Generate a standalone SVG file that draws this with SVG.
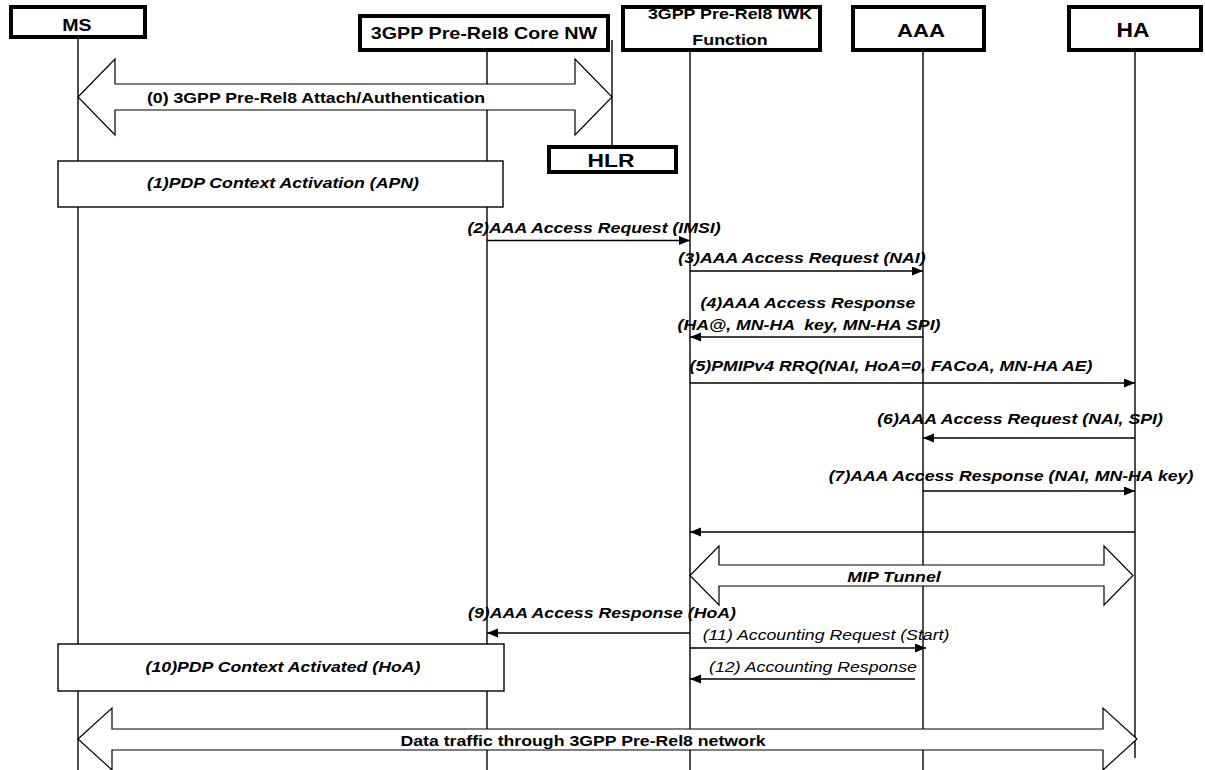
<svg xmlns="http://www.w3.org/2000/svg" width="1205" height="770" viewBox="0 0 1205 770">
<style>
text{font-family:"Liberation Sans",Arial,Helvetica,sans-serif;text-anchor:middle;fill:#000}
.h{font-weight:bold}
.m{font-size:15px;font-style:italic;font-weight:bold;white-space:pre}
.mi{font-size:15px;font-style:italic}
.mb{font-size:15px;font-weight:bold}
.box{fill:#fff;stroke:#000;stroke-width:4}
.life{stroke:#000;stroke-width:1.4;fill:none}
.proc{fill:#fff;stroke:#000;stroke-width:1.4}
.msg{stroke:#000;stroke-width:1.5;fill:none;marker-end:url(#ah)}
.big{fill:#fff;stroke:#000;stroke-width:1.2}
</style>
<defs>
<marker id="ah" markerUnits="userSpaceOnUse" markerWidth="12" markerHeight="10" refX="11" refY="4.5" orient="auto">
<path d="M0,0 L11,4.5 L0,9 z" fill="#000"/>
</marker>
</defs>
<rect width="1205" height="770" fill="#fff"/>

<g id="lifelines">
<line class="life" x1="78" y1="39" x2="78" y2="770"/>
<line class="life" x1="487" y1="52" x2="487" y2="770"/>
<line class="life" x1="690" y1="52" x2="690" y2="770"/>
<line class="life" x1="923" y1="52" x2="923" y2="770"/>
<line class="life" x1="1135" y1="52" x2="1135" y2="758"/>
<line class="life" x1="612" y1="40" x2="612" y2="145"/>
</g>

<g id="MS">
<rect class="box" x="11" y="7" width="134" height="30"/>
<text class="h" font-size="17" transform="translate(77,31) scale(1.15,1)">MS</text>
</g>
<g id="CoreNW">
<rect class="box" x="360" y="16" width="248" height="34"/>
<text class="h" font-size="17" transform="translate(484,38.5) scale(1.16,1)">3GPP Pre-Rel8 Core NW</text>
</g>
<g id="IWK">
<rect class="box" x="623" y="7" width="197" height="43"/>
<text class="h" font-size="15" transform="translate(730,19) scale(1.19,1)">3GPP Pre-Rel8 IWK</text>
<text class="h" font-size="15" transform="translate(730,44.5) scale(1.19,1)">Function</text>
</g>
<g id="AAA">
<rect class="box" x="853" y="7" width="131" height="43"/>
<text class="h" font-size="19" transform="translate(921,37) scale(1.17,1)">AAA</text>
</g>
<g id="HA">
<rect class="box" x="1069" y="7" width="132" height="43"/>
<text class="h" font-size="19.5" transform="translate(1133,37) scale(1.17,1)">HA</text>
</g>
<g id="HLR">
<rect class="box" x="549" y="147" width="127" height="25"/>
<text class="h" font-size="19" transform="translate(611,167) scale(1.2,1)">HLR</text>
</g>

<g id="step1">
<rect class="proc" x="58" y="161" width="445" height="46"/>
<text class="m" transform="translate(283,187.5) scale(1.18,1)">(1)PDP Context Activation (APN)</text>
</g>
<g id="step10">
<rect class="proc" x="58" y="644" width="446" height="47"/>
<text class="m" transform="translate(283,671.5) scale(1.18,1)">(10)PDP Context Activated (HoA)</text>
</g>

<g id="connectors">
<polygon class="big" points="78,97 115,59 115,84 575,84 575,59 612,97 575,135 575,110 115,110 115,135"/>
<polygon class="big" points="690,575.5 719,546 719,565 1104,565 1104,546 1133,575.5 1104,605 1104,586 719,586 719,605"/>
<polygon class="big" points="78,739 112,708 112,729 1103,729 1103,708 1137,739 1103,770 1103,750 112,750 112,770"/>
<line class="msg" x1="487" y1="240.5" x2="690" y2="240.5"/>
<line class="msg" x1="690" y1="271" x2="923" y2="271"/>
<line class="msg" x1="923" y1="337" x2="690" y2="337"/>
<line class="msg" x1="690" y1="383" x2="1135" y2="383"/>
<line class="msg" x1="1135" y1="438" x2="923" y2="438"/>
<line class="msg" x1="923" y1="491" x2="1135" y2="491"/>
<line class="msg" x1="1135" y1="532" x2="690" y2="532"/>
<line class="msg" x1="690" y1="633" x2="487" y2="633"/>
<line class="msg" x1="690" y1="648" x2="926" y2="648"/>
<line class="msg" x1="915" y1="679" x2="690" y2="679"/>
</g>

<g id="labels">
<text class="mb" transform="translate(316,102.5) scale(1.18,1)">(0) 3GPP Pre-Rel8 Attach/Authentication</text>
<text class="m" transform="translate(594,232.5) scale(1.18,1)">(2)AAA Access Request (IMSI)</text>
<text class="m" transform="translate(802,262.5) scale(1.18,1)">(3)AAA Access Request (NAI)</text>
<text class="m" transform="translate(808,307.5) scale(1.18,1)">(4)AAA Access Response</text>
<text class="m" transform="translate(809,329.5) scale(1.18,1)">(HA@, MN-HA  key, MN-HA SPI)</text>
<text class="m" transform="translate(891,370.5) scale(1.18,1)">(5)PMIPv4 RRQ(NAI, HoA=0, FACoA, MN-HA AE)</text>
<text class="m" transform="translate(1020,423.5) scale(1.18,1)">(6)AAA Access Request (NAI, SPI)</text>
<text class="m" transform="translate(1011,480.5) scale(1.18,1)">(7)AAA Access Response (NAI, MN-HA key)</text>
<text class="m" transform="translate(894,581.5) scale(1.18,1)">MIP Tunnel</text>
<text class="m" transform="translate(602,617.5) scale(1.18,1)">(9)AAA Access Response (HoA)</text>
<text class="mi" transform="translate(826,639.5) scale(1.18,1)">(11) Accounting Request (Start)</text>
<text class="mi" transform="translate(813,671.5) scale(1.18,1)">(12) Accounting Response</text>
<text class="mb" transform="translate(583,745.5) scale(1.18,1)">Data traffic through 3GPP Pre-Rel8 network</text>
</g>
</svg>
